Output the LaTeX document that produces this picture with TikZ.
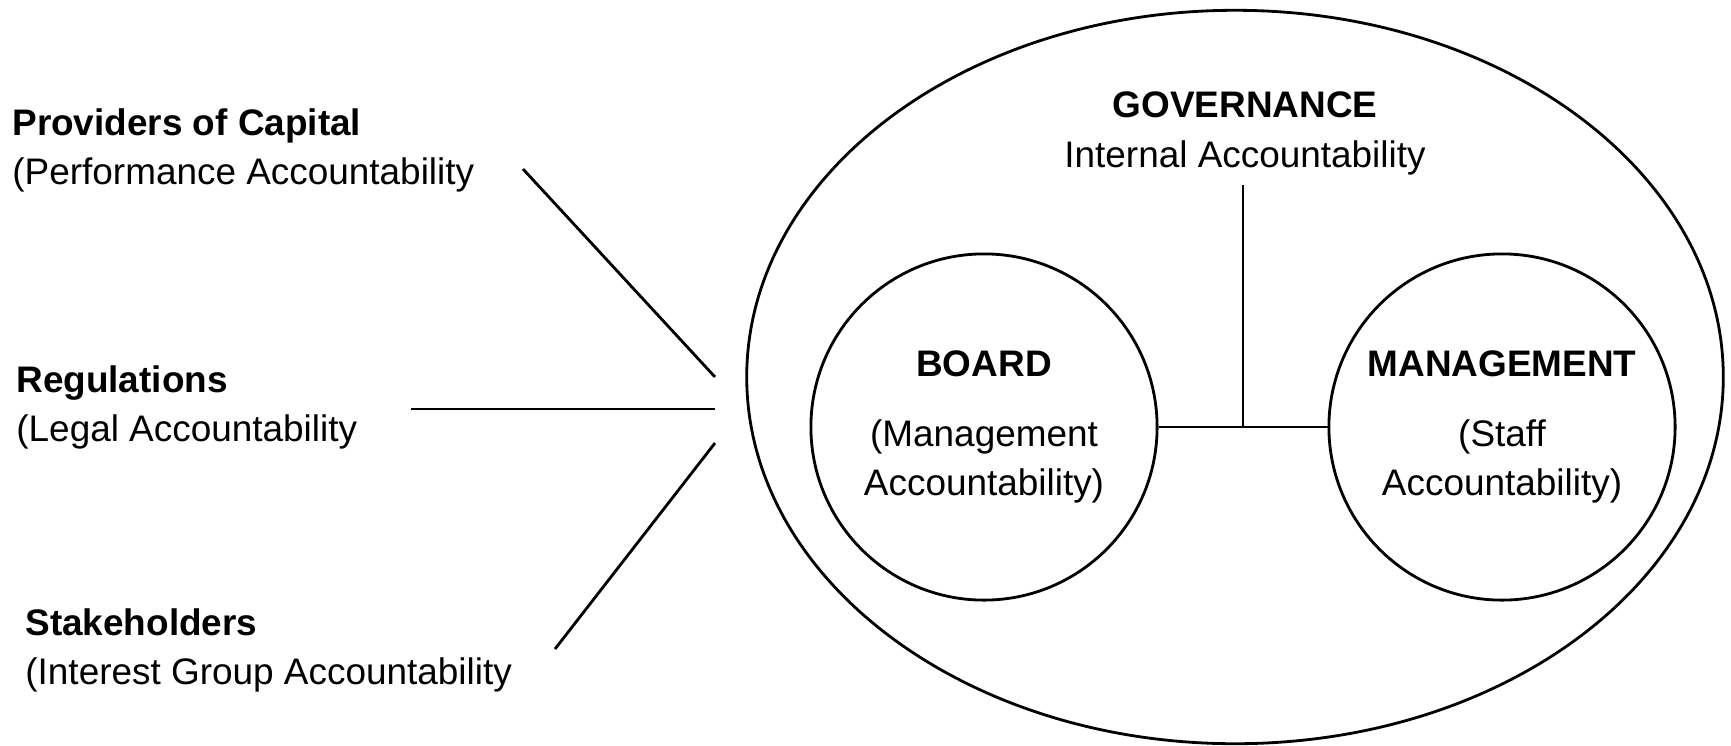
\documentclass[tikz,border=0pt]{standalone}
\usepackage{fontspec}
\setmainfont{Liberation Sans}
\usetikzlibrary{shapes.geometric}
\tikzset{
  every node/.style={font=\fontsize{10.5}{14}\selectfont},
  ring/.style={circle,draw,minimum size=3.46cm,inner sep=0pt,align=center},
  side/.style={anchor=north west,align=left,inner sep=0pt},
}
\begin{document}
\begin{tikzpicture}[x=0.01cm,y=-0.01cm,line width=0.8pt]
  \useasboundingbox (0,0) rectangle (1731,745);
  % outer ellipse and the two circles
  \node[ellipse,draw,minimum width=9.76cm,minimum height=7.33cm] (outer) at (1235,377) {};
  \node[ring] (board) at (984,427) {\textbf{BOARD}\\[6pt](Management\\Accountability)};
  \node[ring] (mgmt) at (1502,427) {\textbf{MANAGEMENT}\\[6pt](Staff\\Accountability)};
  \node[anchor=south,align=center,inner sep=2.5pt] (gov) at (1245,185) {\textbf{GOVERNANCE}\\Internal Accountability};
  % labels on the left
  \node[side] (cap) at (11,107) {\textbf{Providers of Capital}\\(Performance Accountability};
  \node[side] (reg) at (15,364) {\textbf{Regulations}\\(Legal Accountability};
  \node[side] (stake) at (24,607) {\textbf{Stakeholders}\\(Interest Group Accountability};
  \coordinate (cap1) at (523,169);
  \coordinate (cap2) at (715,377);
  \coordinate (reg1) at (411,409);
  \coordinate (reg2) at (715,409);
  \coordinate (stake1) at (555,649);
  \coordinate (stake2) at (715,443);
  \begin{scope}[-]
    \draw (board) -- coordinate[midway] (mid) (mgmt);
    \draw (mid) -- (mid |- gov.south);
    \draw (cap1) to (cap2);
    \draw (reg1) to (reg2);
    \draw (stake1) to (stake2);
  \end{scope}
\end{tikzpicture}
\end{document}
